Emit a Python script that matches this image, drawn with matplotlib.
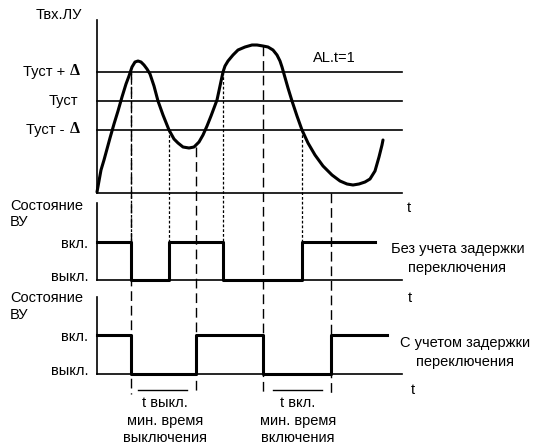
import numpy as np
import matplotlib.pyplot as plt

plt.rcParams['font.family'] = ['Liberation Sans', 'DejaVu Sans']

# ── данные (в единицах схемы) ───────────────────────────────────────────────
# входной сигнал Твх.ЛУ
curve_x = [97, 99, 101, 104, 107, 110, 114, 118, 122, 126, 129, 132, 135,
           138, 141, 144, 147, 150, 154, 158, 163, 169, 174, 178, 183, 189,
           194, 199, 203, 207, 211, 214, 217, 220, 223, 225, 228, 233, 238,
           245, 252, 257, 263, 268, 273, 277, 280, 282, 284, 288, 292, 297,
           302, 308, 315, 323, 332, 340, 347, 353, 359, 365, 370, 375, 379,
           382, 383]
curve_y = [192, 181, 170, 160, 149, 138, 124, 111, 97, 84, 76, 67, 62,
           61, 62, 65, 69, 74, 86, 101, 115, 130, 139, 143, 147, 148,
           147, 142, 135, 126, 116, 108, 100, 86, 72, 66, 61, 55, 50,
           47, 45, 45, 46, 47, 50, 55, 61, 67, 74, 88, 101, 116,
           130, 143, 155, 166, 175, 181, 184, 185, 184, 182, 179, 171, 157,
           145, 140]

levels = [72, 101, 130]                   # Туст+Δ, Туст, Туст-Δ
level_labels = ['Туст + ', 'Туст', 'Туст - ']
t0, t_end = 97, 402

# моменты переключения
sw_plain = [131, 169, 223, 302]            # без задержки
sw_delay = [131, 196, 263, 331]            # с задержкой
plain_end, delay_end = 375, 387
# точки начала пунктирных линий на кривой
plain_from = [72, 130, 72, 130]
delay_from = [72, 147, 46, 193]

BLACK = 'black'
fig = plt.figure(figsize=(5.39, 4.45), dpi=100)
ax = fig.add_axes([0, 0, 1, 1])
ax.set_xlim(0, 539)
ax.set_ylim(445, 0)
ax.axis('off')

FS = 10.5
LONG = (0, (7, 3.5))
SHORT = (0, (2.2, 1.6))

# ── верхний график ──────────────────────────────────────────────────────────
ax.plot([t0, t0], [20, 193], color=BLACK, lw=1.2)
ax.plot([t0, t_end], [193, 193], color=BLACK, lw=1.2)
for lv in levels:
    ax.plot([t0, t_end], [lv, lv], color=BLACK, lw=1.2)
ax.plot(curve_x, curve_y, color=BLACK, lw=2.2, solid_joinstyle='round',
        solid_capstyle='round')

ax.text(82, 15, 'Твх.ЛУ', fontsize=FS, ha='right', va='center')
ax.text(69, levels[0], level_labels[0], fontsize=FS, ha='right', va='center')
ax.text(80, levels[0] - 1, 'Δ', fontsize=FS + 1, ha='right', va='center',
        family='Liberation Serif', fontweight='bold')
ax.text(78, levels[1], level_labels[1], fontsize=FS, ha='right', va='center')
ax.text(69, levels[2], level_labels[2], fontsize=FS, ha='right', va='center')
ax.text(80, levels[2] - 1, 'Δ', fontsize=FS + 1, ha='right', va='center',
        family='Liberation Serif', fontweight='bold')
ax.text(313, 58, 'AL.t=1', fontsize=FS, ha='left', va='center')
ax.text(409, 208, 't', fontsize=FS, ha='center', va='center')

# пунктирные линии
for x, y in zip(sw_plain, plain_from):
    ax.plot([x, x], [y, 280], color=BLACK, lw=0.9, ls=SHORT)
for x, y in zip(sw_delay, delay_from):
    ax.plot([x, x], [y, 394], color=BLACK, lw=1.0, ls=LONG)

# ── средний график: без учета задержки ─────────────────────────────────────
on1, off1 = 242, 280
ax.plot([t0, t0], [203, off1], color=BLACK, lw=1.2)
ax.plot([t0, t_end], [off1, off1], color=BLACK, lw=1.2)
sx = [t0]
sy = [on1]
state = on1
for s in sw_plain:
    sx += [s, s]
    sy += [state, off1 if state == on1 else on1]
    state = sy[-1]
sx.append(plain_end)
sy.append(state)
ax.plot(sx, sy, color=BLACK, lw=2.2)

ax.text(10, 206, 'Состояние', fontsize=FS, ha='left', va='center')
ax.text(10, 222, 'ВУ', fontsize=FS, ha='left', va='center')
ax.text(88, 244, 'вкл.', fontsize=FS, ha='right', va='center')
ax.text(88, 277, 'выкл.', fontsize=FS, ha='right', va='center')
ax.text(410, 298, 't', fontsize=FS, ha='center', va='center')
ax.text(458, 249, 'Без учета задержки', fontsize=FS, ha='center', va='center')
ax.text(457, 268, 'переключения', fontsize=FS, ha='center', va='center')

# ── нижний график: с учетом задержки ───────────────────────────────────────
on2, off2 = 335, 374
ax.plot([t0, t0], [297, off2], color=BLACK, lw=1.2)
ax.plot([t0, t_end], [off2, off2], color=BLACK, lw=1.2)
sx = [t0]
sy = [on2]
state = on2
for s in sw_delay:
    sx += [s, s]
    sy += [state, off2 if state == on2 else on2]
    state = sy[-1]
sx.append(delay_end)
sy.append(state)
ax.plot(sx, sy, color=BLACK, lw=2.2)

ax.text(10, 298, 'Состояние', fontsize=FS, ha='left', va='center')
ax.text(10, 315, 'ВУ', fontsize=FS, ha='left', va='center')
ax.text(88, 337, 'вкл.', fontsize=FS, ha='right', va='center')
ax.text(88, 371, 'выкл.', fontsize=FS, ha='right', va='center')
ax.text(413, 390, 't', fontsize=FS, ha='center', va='center')
ax.text(465, 343, 'С учетом задержки', fontsize=FS, ha='center', va='center')
ax.text(465, 362, 'переключения', fontsize=FS, ha='center', va='center')

# ── подписи минимального времени ───────────────────────────────────────────
ax.plot([138, 187], [390, 390], color=BLACK, lw=1.0)
ax.plot([273, 322], [390, 390], color=BLACK, lw=1.0)
for cx, lines in [(165, ['t выкл.', 'мин. время', 'выключения']),
                  (298, ['t вкл.', 'мин. время', 'включения'])]:
    for yy, s in zip([403, 421, 438], lines):
        ax.text(cx, yy, s, fontsize=FS, ha='center', va='center')

plt.savefig('out.png', dpi=100)
plt.close()
